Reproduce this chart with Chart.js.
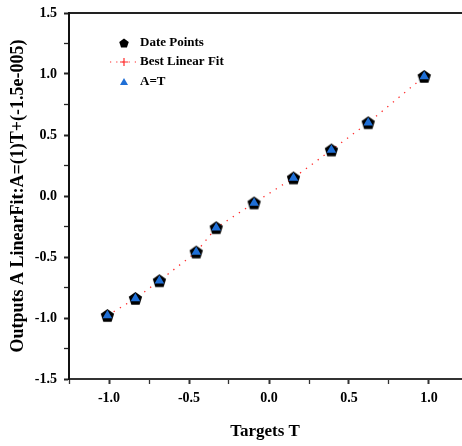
<!DOCTYPE html>
<html>
<head>
<meta charset="utf-8">
<script src="https://cdn.jsdelivr.net/npm/chart.js@4.4.0/dist/chart.umd.min.js"></script>
<style>
  html, body { margin: 0; padding: 0; background: #fff; overflow: hidden; }
  #wrap { width: 462px; height: 446px; position: relative; }
</style>
</head>
<body>
<div id="wrap"><canvas id="chart"></canvas></div>
<script>
// values
const targets = [-1.01, -0.835, -0.685, -0.455, -0.33, -0.093, 0.153, 0.39, 0.62, 0.97];
const outputs = [-0.98, -0.84, -0.695, -0.46, -0.26, -0.057, 0.148, 0.377, 0.60, 0.98];
// the dotted red line passes through these heights
const fitValues = [-0.98, -0.84, -0.695, -0.46, -0.26, -0.057, 0.148, 0.377, 0.60, 0.98];
const seriesNames = ['Date Points', 'Best Linear Fit', 'A=T'];
const xTickLabels = ['-1.0', '-0.5', '0.0', '0.5', '1.0'];
const yTickLabels = ['-1.5', '-1.0', '-0.5', '0.0', '0.5', '1.0', '1.5'];

const serif = "'Liberation Serif', 'Times New Roman', serif";

function pentagon(c, cx, cy, r) {
    c.beginPath();
    for (let i = 0; i < 5; i++) {
        const a = -Math.PI / 2 + i * 2 * Math.PI / 5;
        const px = cx + r * Math.cos(a), py = cy + r * Math.sin(a);
        if (i === 0) c.moveTo(px, py); else c.lineTo(px, py);
    }
    c.closePath();
}

// pentagon marker as an image for pointStyle
const pent = document.createElement('canvas');
pent.width = 15; pent.height = 15;
const pc = pent.getContext('2d');
pentagon(pc, 7.5, 8, 7);
pc.fillStyle = '#000';
pc.fill();

const pts = targets.map((t, i) => ({x: t, y: outputs[i]}));
const fitPts = targets.map((t, i) => ({x: t, y: fitValues[i]}));

function isMajor(v) {
    return Math.abs(v * 2 - Math.round(v * 2)) < 1e-6;
}
function fmtTick(v, labels) {
    const s = v.toFixed(1);
    return (isMajor(v) && labels.includes(s)) ? s : '';
}
// keep the plot box where the reference has it
function noPad(scale) {
    scale.paddingLeft = 0;
    scale.paddingRight = 0;
    scale.paddingTop = 0;
    scale.paddingBottom = 0;
}

const legendBox = {
    id: 'legendBox',
    afterDraw(chart) {
        const c = chart.ctx;
        const ds = chart.data.datasets;
        c.save();
        c.font = "bold 13px " + serif;
        c.fillStyle = '#000';
        c.textBaseline = 'middle';
        c.textAlign = 'left';
        const mx = 124, tx = 140;
        const rows = [43, 62, 82];
        // Date Points
        pentagon(c, mx, rows[0] + 0.5, 5);
        c.fillStyle = '#000';
        c.fill();
        c.fillText(ds[0].label, tx, rows[0]);
        // Best Linear Fit
        c.strokeStyle = ds[1].borderColor;
        c.lineWidth = 1.2;
        c.setLineDash([1.2, 5]);
        c.beginPath();
        c.moveTo(110, rows[1]); c.lineTo(139, rows[1]);
        c.stroke();
        c.setLineDash([]);
        c.beginPath();
        c.moveTo(mx - 4, rows[1]); c.lineTo(mx + 4, rows[1]);
        c.moveTo(mx, rows[1] - 4); c.lineTo(mx, rows[1] + 4);
        c.stroke();
        c.fillStyle = '#000';
        c.fillText(ds[1].label, tx, rows[1]);
        // A=T
        c.fillStyle = ds[2].backgroundColor;
        c.beginPath();
        c.moveTo(mx, rows[2] - 4); c.lineTo(mx + 4, rows[2] + 3); c.lineTo(mx - 4, rows[2] + 3);
        c.closePath();
        c.fill();
        c.fillStyle = '#000';
        c.fillText(ds[2].label, tx, rows[2]);
        c.restore();
    }
};

const ctx = document.getElementById('chart').getContext('2d');

const myChart = new Chart(ctx, {
    type: 'scatter',
    data: {
        datasets: [{
            label: seriesNames[0],
            data: pts,
            pointStyle: pent,
            order: 2
        }, {
            label: seriesNames[1],
            data: fitPts,
            showLine: true,
            borderColor: '#ff2a2a',
            borderWidth: 1.3,
            borderDash: [1.3, 6],
            pointStyle: 'cross',
            pointRadius: 3,
            pointBorderColor: '#ff2a2a',
            pointBorderWidth: 1,
            order: 3
        }, {
            label: seriesNames[2],
            data: pts,
            pointStyle: 'triangle',
            pointRadius: 5.5,
            backgroundColor: '#1f6fd6',
            borderColor: '#1f6fd6',
            borderWidth: 0,
            order: 1
        }]
    },
    options: {
        responsive: true,
        maintainAspectRatio: false,
        animation: false,
        layout: {
            autoPadding: false,
            padding: {left: 0, top: 13, right: 1, bottom: 0}
        },
        plugins: {
            legend: {display: false},
            tooltip: {enabled: false}
        },
        scales: {
            x: {
                type: 'linear',
                position: 'bottom',
                min: -1.25,
                max: 1.2,
                afterFit: function(scale) {
                    scale.height = 67;
                    noPad(scale);
                },
                ticks: {
                    stepSize: 0.25,
                    includeBounds: false,
                    autoSkip: false,
                    maxRotation: 0,
                    padding: 6,
                    color: '#000',
                    font: {family: serif, size: 14, weight: 'bold'},
                    callback: function(v) { return fmtTick(v, xTickLabels); }
                },
                grid: {
                    drawOnChartArea: false,
                    drawTicks: true,
                    tickLength: 5,
                    tickColor: '#333',
                    tickWidth: function(c) { return c.tick && isMajor(c.tick.value) ? 2 : 1.3; }
                },
                border: {display: true, color: '#333', width: 2},
                title: {
                    display: true,
                    text: 'Targets T',
                    color: '#000',
                    font: {family: serif, size: 17, weight: 'bold'},
                    padding: {top: 0, bottom: 4}
                }
            },
            xTop: {
                type: 'linear',
                position: 'top',
                min: -1.25,
                max: 1.2,
                afterFit: function(scale) {
                    scale.height = 0;
                    noPad(scale);
                },
                ticks: {display: false},
                grid: {display: false, drawTicks: false},
                border: {display: true, color: '#222', width: 2}
            },
            y: {
                type: 'linear',
                min: -1.5,
                max: 1.5,
                afterFit: function(scale) {
                    scale.width = 69;
                    noPad(scale);
                },
                ticks: {
                    stepSize: 0.25,
                    autoSkip: false,
                    padding: 7,
                    color: '#000',
                    font: {family: serif, size: 14, weight: 'bold'},
                    callback: function(v) { return fmtTick(v, yTickLabels); }
                },
                grid: {
                    drawOnChartArea: false,
                    drawTicks: true,
                    tickLength: 5,
                    tickColor: '#222',
                    tickWidth: function(c) { return c.tick && isMajor(c.tick.value) ? 2 : 1.3; }
                },
                border: {display: true, color: '#111', width: 2},
                title: {
                    display: true,
                    text: 'Outputs A LinearFit:A=(1)T+(-1.5e-005)',
                    color: '#000',
                    font: {family: serif, size: 18, weight: 'bold'},
                    padding: {top: 8, bottom: 0}
                }
            }
        }
    },
    plugins: [legendBox]
});
</script>
</body>
</html>
